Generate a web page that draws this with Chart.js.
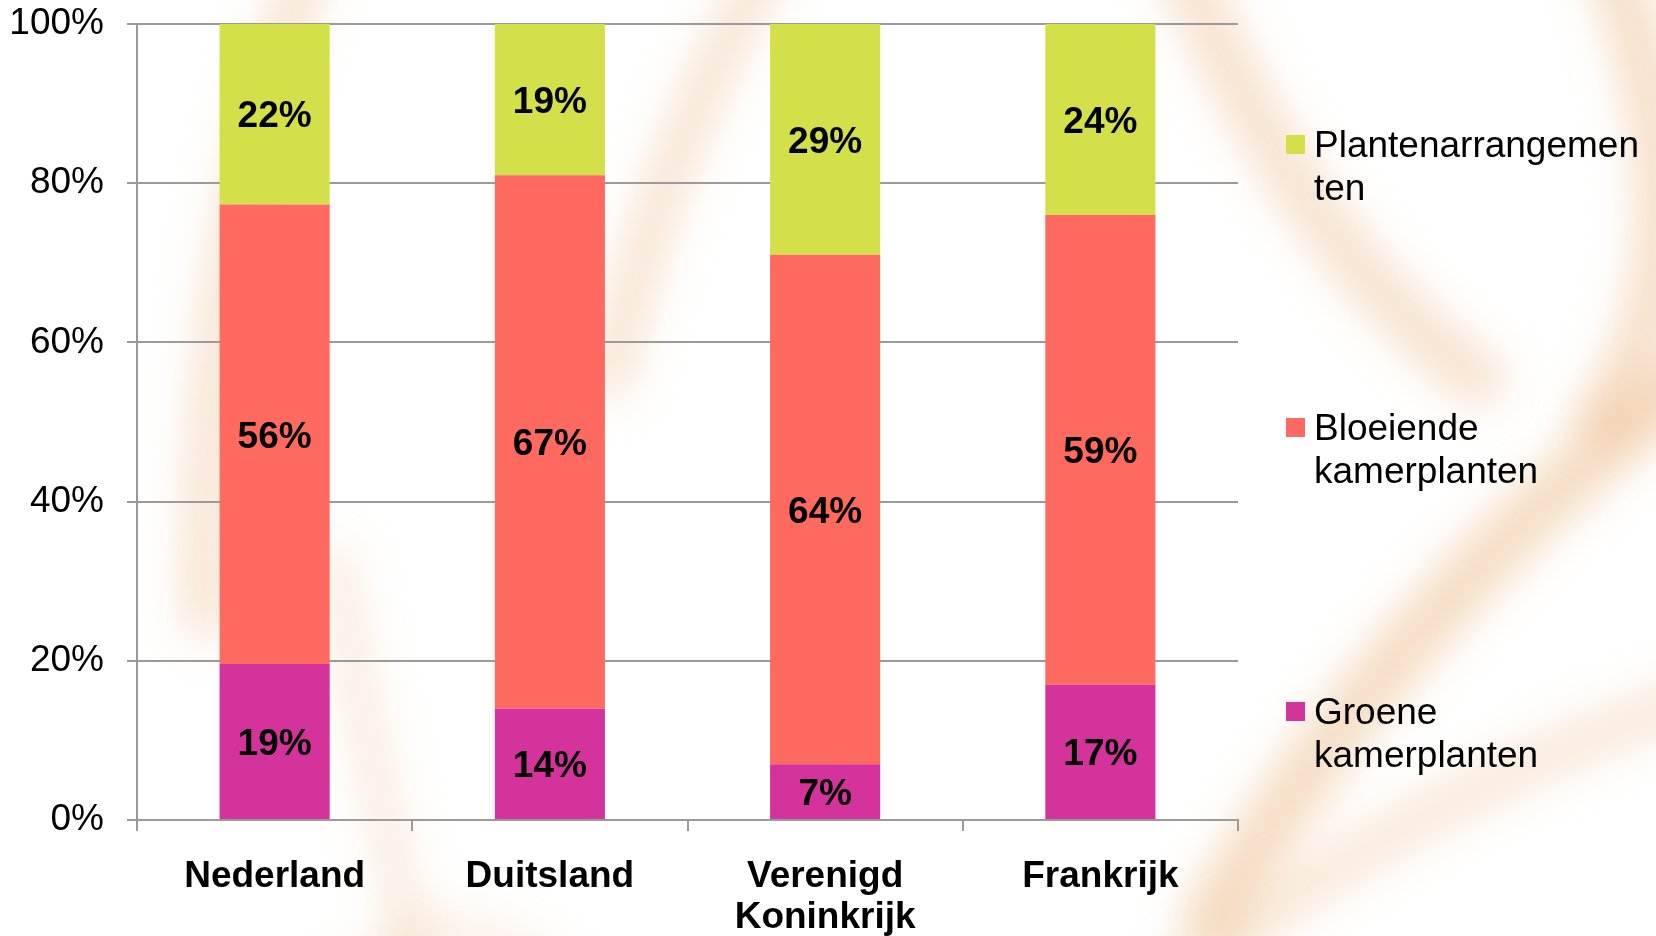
<!DOCTYPE html>
<html>
<head>
<meta charset="utf-8">
<script src="https://cdn.jsdelivr.net/npm/chart.js@4.4.1/dist/chart.umd.min.js"></script>
<style>
  html, body { margin: 0; padding: 0; background: #fff; }
  #wrap { position: relative; width: 1656px; height: 936px; overflow: hidden; }
  #legend { position: absolute; left: 1286px; top: 0; width: 370px; font-family: 'Liberation Sans', Arial, sans-serif; font-size: 37px; line-height: 43px; color: #000; }
  .item { position: absolute; left: 0; display: flex; align-items: flex-start; }
  .box { width: 19px; height: 19px; margin-top: 12px; margin-right: 9px; flex: none; }
  .txt { width: 330px; overflow-wrap: anywhere; }
</style>
</head>
<body>
<div id="wrap">
  <canvas id="chart"></canvas>
  <div id="legend"></div>
</div>
<script>
// categories and raw shares (as printed on the bars)
const countries = ['Nederland', 'Duitsland', ['Verenigd', 'Koninkrijk'], 'Frankrijk']
const groene = [19, 14, 7, 17]
const bloeiende = [56, 67, 64, 59]
const arrangementen = [22, 19, 29, 24]
const yTicks = [0, 20, 40, 60, 80, 100]

const seriesNames = ['Groene kamerplanten', 'Bloeiende kamerplanten', 'Plantenarrangementen']
const seriesColors = ['#D3339B', '#FF6A60', '#D3E049']

// 100% stacked: each column is scaled to its own total
const raw = [groene, bloeiende, arrangementen]
const totals = countries.map((_, i) => raw.reduce((s, r) => s + r[i], 0))
const share = r => r.map((v, i) => v / totals[i] * 100)

const FONT = "'Liberation Sans', Arial, sans-serif"
Chart.defaults.font.family = FONT
Chart.defaults.color = '#000'

// soft orange swirls of the slide background
const swirls = {
  id: 'swirls',
  beforeDraw(chart) {
    const ctx = chart.ctx
    ctx.save()
    ctx.filter = 'blur(22px)'
    ctx.lineCap = 'round'
    const paths = [
      [[310, -40], [200, 250], [205, 620], 40, 0.40],
      [[335, 560], [370, 760], [420, 980], 34, 0.28],
      [[770, -40], [660, 150], [610, 380], 40, 0.38],
      [[350, 980], [450, 880], [560, 980], 36, 0.20],
      [[1180, -40], [1300, 250], [1480, 380], 50, 0.40],
      [[1610, -40], [1720, 250], [1600, 420], 50, 0.45],
      [[1690, 380], [1400, 600], [1210, 920], 55, 0.48],
      [[1690, 700], [1400, 800], [1180, 980], 42, 0.33]
    ]
    paths.forEach(([a, c, b, w, al]) => {
      ctx.strokeStyle = `rgba(232,178,122,${al})`
      ctx.lineWidth = w
      ctx.beginPath()
      ctx.moveTo(a[0], a[1])
      ctx.quadraticCurveTo(c[0], c[1], b[0], b[1])
      ctx.stroke()
    })
    ctx.restore()
  }
}

// printed values in the middle of each segment
const segLabels = {
  id: 'segLabels',
  afterDatasetsDraw(chart) {
    const ctx = chart.ctx
    ctx.save()
    ctx.font = `bold 37px ${FONT}`
    ctx.fillStyle = '#000'
    ctx.textAlign = 'center'
    ctx.textBaseline = 'middle'
    chart.data.datasets.forEach((ds, di) => {
      chart.getDatasetMeta(di).data.forEach((bar, i) => {
        ctx.fillText(ds.raw[i] + '%', bar.x, (bar.y + bar.base) / 2 + 3)
      })
    })
    ctx.restore()
  }
}

const chart = new Chart(document.getElementById('chart'), {
  type: 'bar',
  data: {
    labels: countries,
    datasets: raw.map((r, i) => ({
      label: seriesNames[i],
      data: share(r),
      raw: r,
      backgroundColor: seriesColors[i],
      borderWidth: 0,
      categoryPercentage: 1,
      barPercentage: 0.4
    }))
  },
  options: {
    responsive: true,
    maintainAspectRatio: false,
    animation: false,
    layout: { padding: { top: 24, right: 418, left: 0, bottom: 0 } },
    plugins: { legend: { display: false }, tooltip: { enabled: false } },
    scales: {
      x: {
        stacked: true,
        afterFit: s => { s.height = 116 },
        grid: { offset: true, drawOnChartArea: false, drawTicks: true, tickLength: 11, color: '#9A9A9A', lineWidth: 2 },
        border: { color: '#9A9A9A', width: 2 },
        ticks: { padding: 25, font: { size: 37, weight: 'bold', lineHeight: 1.12 }, color: '#000' }
      },
      y: {
        stacked: true,
        min: 0,
        max: 100,
        afterFit: s => { s.width = 137; s.paddingTop = 0; s.paddingBottom = 0 },
        afterBuildTicks: s => { s.ticks = yTicks.map(v => ({ value: v })) },
        grid: { color: '#9A9A9A', lineWidth: 2, tickLength: 10 },
        border: { color: '#9A9A9A', width: 2 },
        ticks: { padding: 23, font: { size: 37 }, color: '#000', callback: v => v + '%' }
      }
    }
  },
  plugins: [swirls, segLabels]
})

// legend on the right, top entry is the top segment
const legend = document.getElementById('legend')
const legendTops = [690, 406, 123]
seriesNames.forEach((name, i) => {
  const el = document.createElement('div')
  el.className = 'item'
  el.style.top = legendTops[i] + 'px'
  el.innerHTML = `<span class="box" style="background:${seriesColors[i]}"></span><span class="txt">${name}</span>`
  legend.appendChild(el)
})
</script>
</body>
</html>
